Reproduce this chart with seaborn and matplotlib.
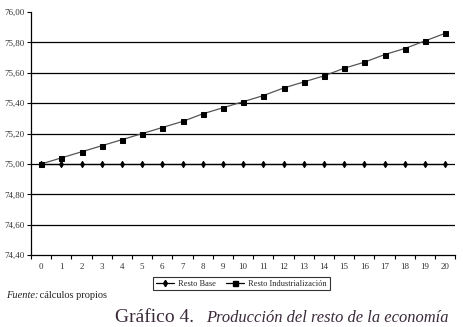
import numpy as np
import pandas as pd
import matplotlib
matplotlib.use("Agg")
import matplotlib.pyplot as plt
import seaborn as sns

periodos = list(range(21))
resto_base = [75.00] * 21
resto_ind = [75.00, 75.04, 75.08, 75.12, 75.16, 75.20, 75.24, 75.28, 75.33, 75.37,
             75.41, 75.45, 75.50, 75.54, 75.58, 75.63, 75.67, 75.72, 75.76, 75.81, 75.86]
y_ticks = [74.4, 74.6, 74.8, 75.0, 75.2, 75.4, 75.6, 75.8, 76.0]

df = pd.DataFrame({
    "periodo": periodos * 2,
    "valor": resto_base + resto_ind,
    "serie": ["Resto Base"] * 21 + ["Resto Industrialización"] * 21,
})

sns.set_style("white")
plt.rcParams["font.family"] = ["Liberation Serif", "DejaVu Serif"]

fig = plt.figure(figsize=(4.64, 3.27), dpi=100)
ax = fig.add_axes([0.067, 0.220, 0.914, 0.743])

sns.lineplot(data=df, x="periodo", y="valor", hue="serie", style="serie",
             palette={"Resto Base": "black", "Resto Industrialización": "#555555"},
             markers={"Resto Base": "d", "Resto Industrialización": "s"},
             dashes=False, linewidth=0.9, ax=ax,
             markeredgecolor="black", legend=False)
for ln, ms in zip(ax.lines, [3.2, 3.6]):
    ln.set_markerfacecolor("black")
    ln.set_markersize(ms)

ax.set_xlim(-0.5, 20.5)
ax.set_ylim(74.4, 76.0)
ax.set_yticks(y_ticks)
ax.set_yticklabels([f"{v:.2f}".replace(".", ",") for v in y_ticks], fontsize=6.5, color="#333333")
ax.set_xticks(periodos)
ax.set_xticklabels([str(p) for p in periodos], fontsize=6.5, color="#333333")
ax.set_xticks([p - 0.5 for p in periodos] + [20.5], minor=True)
ax.tick_params(axis="x", which="major", bottom=False, length=0, pad=6)
ax.tick_params(axis="x", which="minor", bottom=True, length=3, width=0.8, direction="out", color="black")
ax.tick_params(axis="y", left=True, length=3, width=0.8, direction="out", color="black", pad=2)
ax.set_xlabel("")
ax.set_ylabel("")

for v in y_ticks[1:-1]:
    ax.axhline(v, color="black", linewidth=0.9, zorder=0)

for s in ["top", "right"]:
    ax.spines[s].set_visible(False)
for s in ["left", "bottom"]:
    ax.spines[s].set_color("black")
    ax.spines[s].set_linewidth(0.9)

h1, = ax.plot([], [], color="black", marker="d", markersize=3.2, linewidth=0.9)
h2, = ax.plot([], [], color="black", marker="s", markersize=3.6, linewidth=0.9)
leg = fig.legend([h1, h2], ["Resto Base", "Resto Industrialización"], loc="center",
                 bbox_to_anchor=(0.52, 0.133), ncol=2, fontsize=6, frameon=True,
                 fancybox=False, edgecolor="black", handlelength=2.2, columnspacing=1.2,
                 borderpad=0.3, handletextpad=0.5)
leg.get_frame().set_linewidth(0.8)

fig.text(0.012, 0.095, "Fuente:", fontsize=7.5, style="italic", color="#222222", va="center")
fig.text(0.079, 0.095, " cálculos propios", fontsize=7.5, color="#222222", va="center")
fig.text(0.248, 0.028, "Gráfico 4.", fontsize=14, color="#3a2a3a", va="center")
fig.text(0.444, 0.028, "Producción del resto de la economía", fontsize=11.9,
         style="italic", color="#3a2a3a", va="center")

fig.savefig("out.png", dpi=100)
